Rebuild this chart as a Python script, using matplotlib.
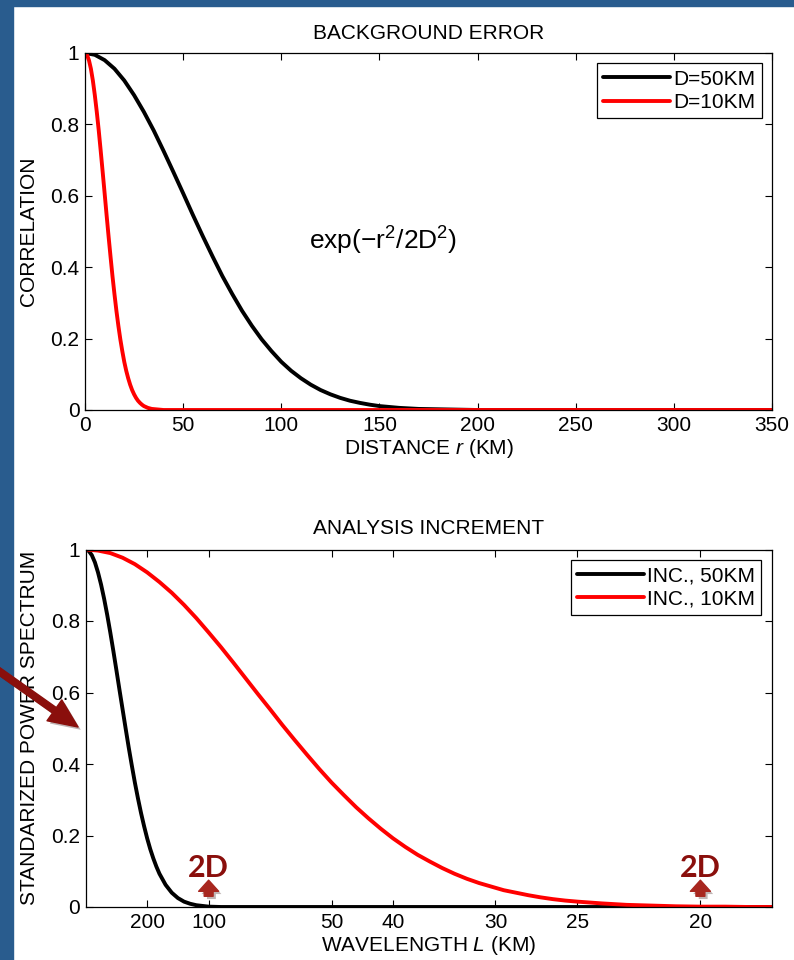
import matplotlib

matplotlib.use("Agg")
import matplotlib.pyplot as plt  # noqa: E402
import matplotlib.patheffects as pe  # noqa: E402
from matplotlib.patches import Rectangle, FancyArrowPatch  # noqa: E402

plt.rcParams["font.family"] = ["Liberation Sans", "DejaVu Sans"]
plt.rcParams["mathtext.fontset"] = "custom"
plt.rcParams["mathtext.rm"] = "Liberation Sans"
plt.rcParams["mathtext.it"] = "Liberation Sans:italic"

# ---- top panel: correlation vs distance (km)
r_d50 = [0, 5, 10, 15, 20, 25, 30, 35, 40, 45, 50, 55, 60, 65, 70, 75, 80, 85,
         90, 95, 100, 105, 110, 115, 120, 125, 130, 135, 140, 145, 150, 160,
         170, 180, 190, 200, 350]
corr_d50 = [1.000, 0.995, 0.980, 0.956, 0.923, 0.882, 0.835, 0.783, 0.726,
            0.667, 0.607, 0.546, 0.487, 0.430, 0.375, 0.325, 0.278, 0.236,
            0.198, 0.165, 0.135, 0.110, 0.089, 0.071, 0.056, 0.044, 0.034,
            0.026, 0.020, 0.015, 0.011, 0.006, 0.003, 0.002, 0.001, 0.000, 0.000]
r_d10 = [0, 1, 2, 3, 4, 5, 6, 7, 8, 9, 10, 11, 12, 13, 14, 15, 16, 17, 18, 19,
         20, 21, 22, 23, 24, 25, 26, 27, 28, 29, 30, 32, 34, 36, 38, 40, 350]
corr_d10 = [1.000, 0.995, 0.980, 0.956, 0.923, 0.882, 0.835, 0.783, 0.726,
            0.667, 0.607, 0.546, 0.487, 0.430, 0.375, 0.325, 0.278, 0.236,
            0.198, 0.165, 0.135, 0.110, 0.089, 0.071, 0.056, 0.044, 0.034,
            0.026, 0.020, 0.015, 0.011, 0.006, 0.003, 0.002, 0.001, 0.000, 0.000]

# ---- bottom panel: spectrum vs wavenumber 1/L (1/km)
k_inc50 = [0, 0.00025, 0.0005, 0.00075, 0.001, 0.00125, 0.0015, 0.00175,
           0.002, 0.00225, 0.0025, 0.00275, 0.003, 0.00325, 0.0035, 0.00375,
           0.004, 0.00425, 0.0045, 0.00475, 0.005, 0.00525, 0.0055, 0.00575,
           0.006, 0.0065, 0.007, 0.0075, 0.008, 0.0085, 0.009, 0.0095, 0.010,
           0.011, 0.0558]
spec_inc50 = [1.000, 0.996, 0.984, 0.964, 0.936, 0.902, 0.862, 0.817, 0.768,
              0.716, 0.662, 0.607, 0.553, 0.499, 0.446, 0.396, 0.348, 0.304,
              0.263, 0.226, 0.192, 0.162, 0.136, 0.113, 0.093, 0.062, 0.040,
              0.025, 0.015, 0.009, 0.005, 0.003, 0.001, 0.000, 0.000]
k_inc10 = [0, 0.001, 0.002, 0.003, 0.004, 0.005, 0.006, 0.007, 0.008, 0.009,
           0.010, 0.011, 0.012, 0.013, 0.014, 0.015, 0.016, 0.017, 0.018,
           0.019, 0.020, 0.021, 0.022, 0.023, 0.024, 0.025, 0.026, 0.027,
           0.028, 0.029, 0.030, 0.031, 0.032, 0.033, 0.034, 0.035, 0.036,
           0.037, 0.038, 0.039, 0.040, 0.042, 0.044, 0.046, 0.048, 0.050,
           0.052, 0.054, 0.0558]
spec_inc10 = [1.000, 0.997, 0.990, 0.977, 0.959, 0.936, 0.909, 0.879, 0.845,
              0.808, 0.768, 0.727, 0.684, 0.640, 0.596, 0.553, 0.509, 0.467,
              0.426, 0.386, 0.348, 0.313, 0.279, 0.248, 0.219, 0.192, 0.168,
              0.146, 0.127, 0.109, 0.093, 0.079, 0.067, 0.057, 0.047, 0.040,
              0.033, 0.027, 0.022, 0.018, 0.015, 0.010, 0.006, 0.004, 0.002,
              0.001, 0.001, 0.000, 0.000]

wavelength_ticks = [200, 100, 50, 40, 30, 25, 20]
marks_2d = [100, 20]  # 2D for D=50 and D=10

DARKRED = "#8a0f0c"
FS = 15

fig = plt.figure(figsize=(7.94, 9.6), dpi=100)
fig.patches.append(Rectangle((0, 0), 13 / 794, 1, transform=fig.transFigure,
                             color="#295c8e", zorder=0))
fig.patches.append(Rectangle((0, 1 - 6 / 960), 1, 6 / 960, transform=fig.transFigure,
                             color="#295c8e", zorder=0))

ax1 = fig.add_axes([85 / 794, 1 - 410 / 960, 687 / 794, 357 / 960])
ax2 = fig.add_axes([85.7 / 794, 1 - 907 / 960, 686 / 794, 357.5 / 960])


def style(ax):
    for s in ax.spines.values():
        s.set_linewidth(0.9)
    ax.tick_params(direction="in", length=5, width=0.8, top=True, right=True,
                   labelsize=FS, pad=4)
    ax.set_ylim(0, 1)
    ax.set_yticks([0, 0.2, 0.4, 0.6, 0.8, 1])
    ax.set_yticklabels(["0", "0.2", "0.4", "0.6", "0.8", "1"])


line_kw = dict(lw=2.8, solid_joinstyle="round", solid_capstyle="round")
ax1.plot(r_d50, corr_d50, color="black", label="D=50KM", **line_kw)
ax1.plot(r_d10, corr_d10, color="red", label="D=10KM", **line_kw)
style(ax1)
ax1.set_xlim(0, 350)
ax1.set_xticks(range(0, 351, 50))
ax1.set_title("BACKGROUND ERROR", fontsize=FS, pad=10)
ax1.set_xlabel("DISTANCE $r$ (KM)", fontsize=FS, labelpad=2)
ax1.set_ylabel("CORRELATION", fontsize=FS, labelpad=9)
ax1.text(152, 0.475, "exp(\u2212r$^2$/2D$^2$)", fontsize=19, ha="center", va="center")

ax2.plot(k_inc50, spec_inc50, color="black", label="INC., 50KM", **line_kw)
ax2.plot(k_inc10, spec_inc10, color="red", label="INC., 10KM", **line_kw)
style(ax2)
ax2.set_xlim(0, 0.0558)
ax2.set_xticks([1 / w for w in wavelength_ticks])
ax2.set_xticklabels([str(w) for w in wavelength_ticks])
ax2.set_title("ANALYSIS INCREMENT", fontsize=FS, pad=11)
ax2.set_xlabel("WAVELENGTH $L$ (KM)", fontsize=FS, labelpad=2)
ax2.set_ylabel("STANDARIZED POWER SPECTRUM", fontsize=FS, labelpad=9)

for ax in (ax1, ax2):
    leg = ax.legend(loc="upper right", fontsize=FS, handlelength=3.2,
                    handletextpad=0.15, labelspacing=0.2, borderpad=0.3,
                    borderaxespad=0.5, fancybox=False, framealpha=1)
    leg.get_frame().set_edgecolor("black")
    leg.get_frame().set_linewidth(0.9)

shadow = [pe.withSimplePatchShadow(offset=(2, -2), alpha=0.3)]
for w in marks_2d:
    ax2.text(1 / w, 0.108, "2D", fontsize=22, fontweight="bold", color=DARKRED,
             family=["Lato", "DejaVu Sans"], ha="center", va="center")
    ax2.annotate("", xy=(1 / w, 0.075), xytext=(1 / w, 0.03),
                 arrowprops=dict(arrowstyle="simple,head_length=0.5,head_width=0.9,tail_width=0.4",
                                 color="#a8271f", mutation_scale=16, shrinkA=0, shrinkB=0,
                                 path_effects=shadow))

# pointer arrow into the lower panel's y label (figure pixel coordinates)
pointer = FancyArrowPatch((-4, 960 - 669), (78, 960 - 727), transform=None,
                          arrowstyle="simple,head_length=1.3,head_width=1.15,tail_width=0.3",
                          color=DARKRED, mutation_scale=16, shrinkA=0, shrinkB=0,
                          path_effects=shadow, zorder=10)
fig.add_artist(pointer)

fig.savefig("out.png", dpi=100)
